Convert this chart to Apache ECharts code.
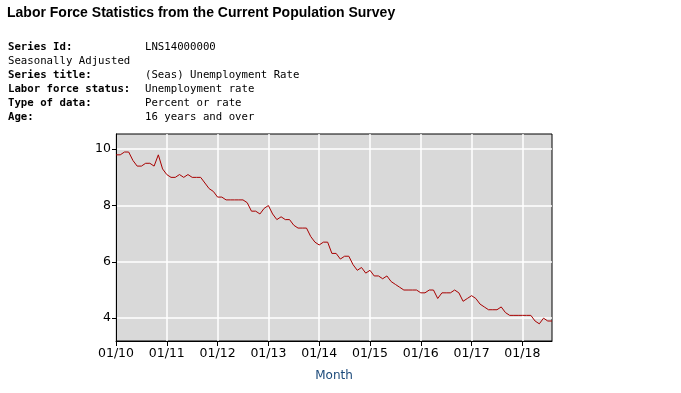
<!DOCTYPE html>
<html><head><meta charset="utf-8">
<script src="https://cdn.jsdelivr.net/npm/echarts@6/dist/echarts.min.js"></script>
<style>html,body{margin:0;padding:0;background:#fff}#c{width:681px;height:393px}</style>
</head><body><div id="c"></div>
<script>
const chartTitle = 'Labor Force Statistics from the Current Population Survey';
const metaLabels = ['Series Id:', 'Seasonally Adjusted', 'Series title:', 'Labor force status:', 'Type of data:', 'Age:'];
const metaBold = [true, false, true, true, true, true];
const metaValues = ['LNS14000000', '', '(Seas) Unemployment Rate', 'Unemployment rate', 'Percent or rate', '16 years and over'];
const years = ['10', '11', '12', '13', '14', '15', '16', '17', '18'];
const rate2010 = [9.8, 9.8, 9.9, 9.9, 9.6, 9.4, 9.4, 9.5, 9.5, 9.4, 9.8, 9.3];
const rate2011 = [9.1, 9.0, 9.0, 9.1, 9.0, 9.1, 9.0, 9.0, 9.0, 8.8, 8.6, 8.5];
const rate2012 = [8.3, 8.3, 8.2, 8.2, 8.2, 8.2, 8.2, 8.1, 7.8, 7.8, 7.7, 7.9];
const rate2013 = [8.0, 7.7, 7.5, 7.6, 7.5, 7.5, 7.3, 7.2, 7.2, 7.2, 6.9, 6.7];
const rate2014 = [6.6, 6.7, 6.7, 6.3, 6.3, 6.1, 6.2, 6.2, 5.9, 5.7, 5.8, 5.6];
const rate2015 = [5.7, 5.5, 5.5, 5.4, 5.5, 5.3, 5.2, 5.1, 5.0, 5.0, 5.0, 5.0];
const rate2016 = [4.9, 4.9, 5.0, 5.0, 4.7, 4.9, 4.9, 4.9, 5.0, 4.9, 4.6, 4.7];
const rate2017 = [4.8, 4.7, 4.5, 4.4, 4.3, 4.3, 4.3, 4.4, 4.2, 4.1, 4.1, 4.1];
const rate2018 = [4.1, 4.1, 4.1, 3.9, 3.8, 4.0, 3.9, 3.9];
const yTicks = [4, 6, 8, 10];
const yMin = 3.19, yMax = 10.54;
const xAxisName = 'Month';

const values = [].concat(rate2010, rate2011, rate2012, rate2013, rate2014, rate2015, rate2016, rate2017, rate2018);
const categories = [];
years.forEach(y => { for (let m = 1; m <= 12; m++) categories.push(String(m).padStart(2, '0') + '/' + y); });
categories.length = values.length;

const mono = '"DejaVu Sans Mono", "Liberation Mono", monospace';
const graphics = [];
metaLabels.forEach((t, i) => {
  const y = 47 + i * 14;
  graphics.push({ type: 'text', x: 8, y: y, style: { text: t, font: (metaBold[i] ? 'bold ' : '') + '10.7px ' + mono, fill: '#000', verticalAlign: 'middle' } });
  if (metaValues[i]) graphics.push({ type: 'text', x: 145, y: y, style: { text: metaValues[i], font: '10.7px ' + mono, fill: '#000', verticalAlign: 'middle' } });
});

const chart = echarts.init(document.getElementById('c'), null, { renderer: 'canvas' });
chart.setOption({
  animation: false,
  backgroundColor: '#fff',
  title: { text: chartTitle, left: 7, top: 6, padding: 0, textStyle: { fontFamily: '"Liberation Sans", Arial, sans-serif', fontWeight: 'bold', fontSize: 14, color: '#000' } },
  graphic: graphics,
  grid: { left: 116, right: 129, top: 134, bottom: 52, show: true, backgroundColor: '#d9d9d9', borderColor: '#000', borderWidth: 1 },
  xAxis: {
    type: 'category', data: categories, boundaryGap: false,
    name: xAxisName, nameLocation: 'middle', nameGap: 29,
    nameTextStyle: { color: '#1c4a7a', fontFamily: '"DejaVu Sans", Verdana, sans-serif', fontSize: 12 },
    axisLine: { lineStyle: { color: '#000', width: 1 } },
    axisTick: { show: true, interval: 11, length: 5, lineStyle: { color: '#000' } },
    axisLabel: { interval: 11, margin: 6, color: '#000', fontFamily: '"DejaVu Sans", Verdana, sans-serif', fontSize: 12.5 },
    splitLine: { show: true, interval: 11, lineStyle: { color: '#fff', width: 1.5 } }
  },
  yAxis: {
    type: 'value', min: yMin, max: yMax,
    axisLine: { show: true, lineStyle: { color: '#000', width: 1 } },
    axisTick: { show: true, length: 4, customValues: yTicks, lineStyle: { color: '#000' } },
    axisLabel: { customValues: yTicks, margin: 5, color: '#000', fontFamily: '"DejaVu Sans", Verdana, sans-serif', fontSize: 12.5 },
    splitLine: { show: true, lineStyle: { color: '#fff', width: 1.5 } }
  },
  series: [{ type: 'line', data: values, showSymbol: false, symbol: 'none', lineStyle: { color: '#a80000', width: 1 }, itemStyle: { color: '#a80000' } }]
});
</script>
</body></html>
